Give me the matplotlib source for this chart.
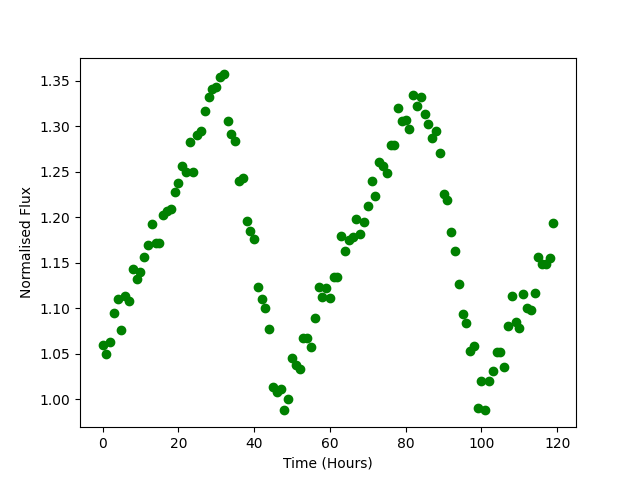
import matplotlib
matplotlib.use("Agg")
import matplotlib.pyplot as plt
import numpy as np

hours = np.arange(120)
flux = [1.060, 1.050, 1.063, 1.095, 1.110, 1.076, 1.114, 1.108, 1.143, 1.132,
        1.140, 1.157, 1.170, 1.193, 1.172, 1.172, 1.203, 1.207, 1.209, 1.228,
        1.238, 1.256, 1.250, 1.283, 1.250, 1.290, 1.295, 1.317, 1.332, 1.341,
        1.343, 1.354, 1.357, 1.306, 1.291, 1.284, 1.240, 1.243, 1.196, 1.185,
        1.176, 1.123, 1.110, 1.100, 1.077, 1.014, 1.008, 1.012, 0.988, 1.001,
        1.045, 1.038, 1.033, 1.067, 1.067, 1.058, 1.089, 1.123, 1.112, 1.122,
        1.111, 1.134, 1.135, 1.180, 1.163, 1.175, 1.178, 1.198, 1.182, 1.195,
        1.213, 1.240, 1.223, 1.261, 1.256, 1.249, 1.279, 1.279, 1.320, 1.306,
        1.307, 1.297, 1.334, 1.322, 1.332, 1.314, 1.303, 1.287, 1.295, 1.271,
        1.226, 1.219, 1.184, 1.163, 1.127, 1.094, 1.084, 1.053, 1.059, 0.991,
        1.020, 0.988, 1.020, 1.031, 1.052, 1.052, 1.036, 1.081, 1.114, 1.085,
        1.079, 1.116, 1.101, 1.098, 1.117, 1.156, 1.149, 1.149, 1.155, 1.194]

fig = plt.figure(figsize=(6.4, 4.8), dpi=100)
plt.plot(hours, flux, 'go')
plt.xlabel('Time (Hours)')
plt.ylabel('Normalised Flux')
plt.savefig('out.png')
